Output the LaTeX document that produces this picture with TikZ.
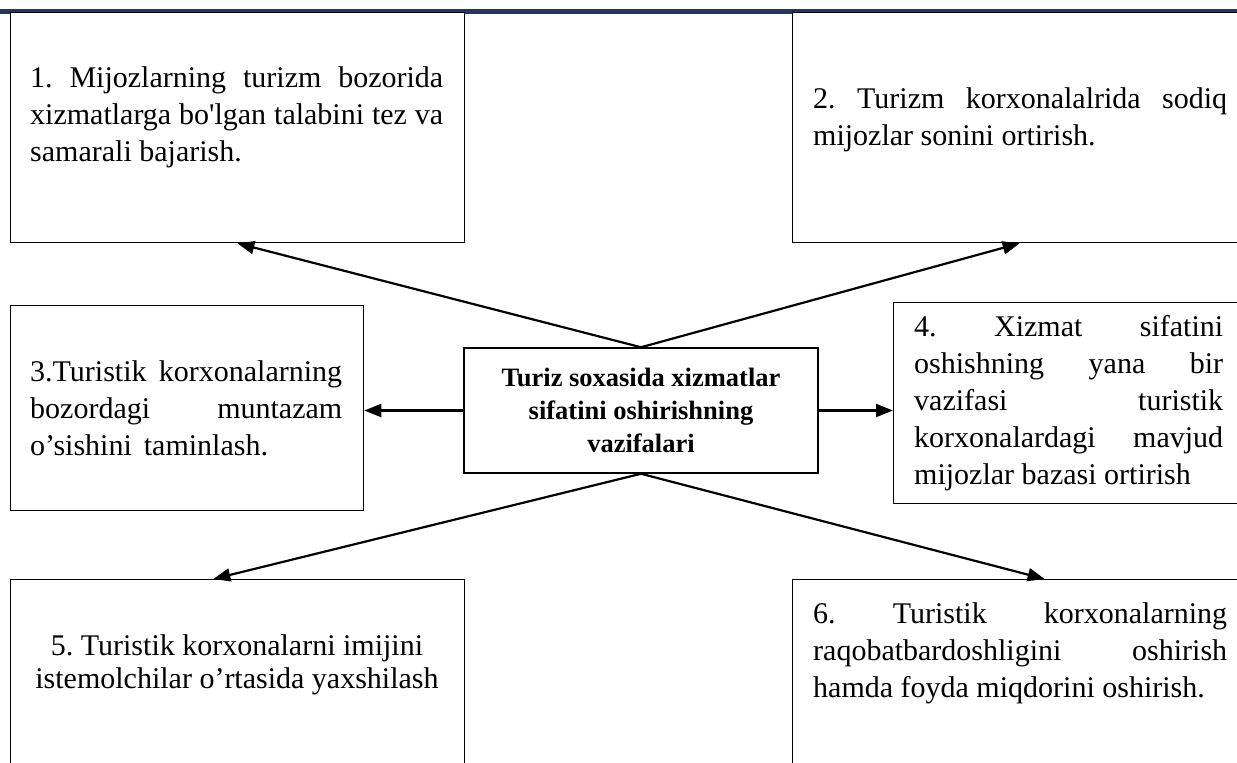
\documentclass[tikz,border=0pt]{standalone}
\usepackage{fontspec}
\newfontfamily\srf{Liberation Serif}
\usetikzlibrary{arrows.meta}
\definecolor{band}{RGB}{31,56,100}
\tikzset{
  box/.style={draw=black, line width=1.3pt, fill=white, anchor=north west, inner sep=0pt},
  cbox/.style={draw=black, line width=1.5pt, fill=white, inner sep=0pt, align=center,
    font=\srf\bfseries\fontsize{26.5}{33}\selectfont},
  txt/.style={anchor=north west, inner sep=0pt, align=left,
    font=\srf\fontsize{30}{37}\selectfont\frenchspacing},
  ctxt/.style={anchor=north, inner sep=0pt, align=center,
    font=\srf\fontsize{30}{33}\selectfont\frenchspacing},
  arr/.style={line width=2.2pt, -{Triangle[length=17pt,width=13pt]}}
}
\begin{document}
\begin{tikzpicture}[x=1pt,y=-1pt]
\useasboundingbox (0,0) rectangle (1237,763);
\clip (0,0) rectangle (1237,763);
\fill[band] (0,8.5) rectangle (1237,13.5);
% boxes
\node[box, minimum width=454.5pt, minimum height=230pt] (b1) at (9.5,12) {};
\node[box, minimum width=454pt, minimum height=230pt] (b2) at (792,12) {};
\node[box, minimum width=353.5pt, minimum height=205pt] (b3) at (9.5,305) {};
\node[box, minimum width=355pt, minimum height=201pt] (b4) at (893,302) {};
\node[box, minimum width=454.5pt, minimum height=215pt] (b5) at (9.5,579) {};
\node[box, minimum width=454pt, minimum height=215pt] (b6) at (792,579) {};
\node[cbox, minimum width=354pt, minimum height=125pt] (c) at (641,410.5)
  {Turiz soxasida xizmatlar\\sifatini oshirishning\\vazifalari};
% texts
\node[txt] (t1) at (30,61.4) {\strut\makebox[413pt][s]{1. Mijozlarning turizm bozorida}\\
  \makebox[413pt][s]{xizmatlarga bo'lgan talabini tez va}\\samarali bajarish.};
\node[txt] (t2) at (813,82.1) {\strut\makebox[414pt][s]{2. Turizm korxonalalrida sodiq}\\
  mijozlar sonini ortirish.};
\node[txt] (t3) at (30,355.8) {\strut\makebox[312pt][s]{3.Turistik korxonalarning}\\
  \makebox[312pt][s]{bozordagi muntazam}\\o’sishini\hspace{12pt}taminlash.};
\node[txt] (t4) at (914,310.8) {\strut\makebox[309pt][s]{4. Xizmat sifatini}\\
  \makebox[309pt][s]{oshishning yana bir}\\
  \makebox[309pt][s]{vazifasi turistik}\\
  \makebox[309pt][s]{korxonalardagi mavjud}\\
  mijozlar bazasi ortirish};
\node[ctxt] (t5) at (237,632.6) {\strut 5. Turistik korxonalarni imijini\\istemolchilar o’rtasida yaxshilash};
\node[txt] (t6) at (813,597.1) {\strut\makebox[414pt][s]{6. Turistik korxonalarning}\\
  \makebox[414pt][s]{raqobatbardoshligini oshirish}\\
  hamda foyda miqdorini oshirish.};
% connectors
\draw[arr] (c.north) -- (b1.south);
\draw[arr] (c.north) -- (b2.south);
\draw[arr] (c.west) -- (c.west -| b3.east);
\draw[arr] (c.east) -- (c.east -| b4.west);
\draw[arr] (c.south) -- ([xshift=-24pt]b5.north);
\draw[arr] (c.south) -- ([xshift=25pt]b6.north);
\end{tikzpicture}
\end{document}
